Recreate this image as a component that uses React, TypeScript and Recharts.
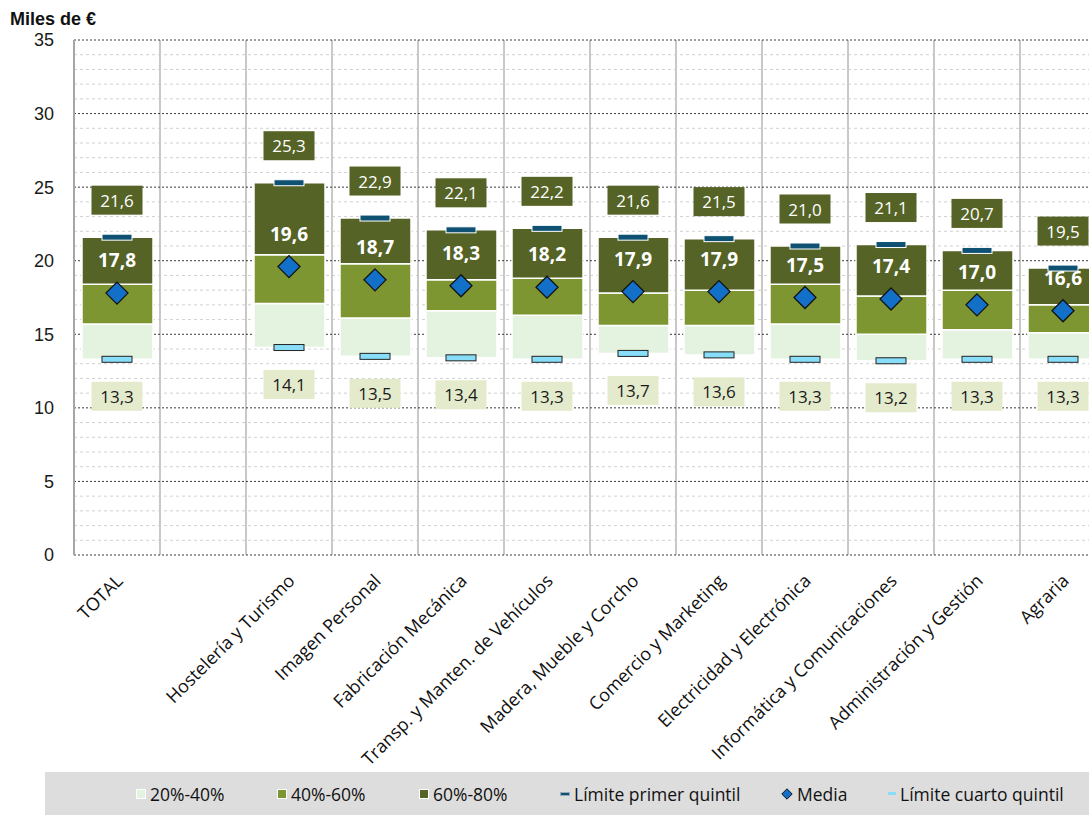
import React from 'react';
import { ComposedChart, Bar, Line, XAxis, YAxis, CartesianGrid, LabelList } from 'recharts';

const FONT = '"Open Sans", sans-serif';
const FONT_NARROW = '"Liberation Sans", Arial, sans-serif';

const categories = [
  'TOTAL',
  ' ',
  'Hostelería y Turismo',
  'Imagen Personal',
  'Fabricación Mecánica',
  'Transp. y Manten. de Vehículos',
  'Madera, Mueble y Corcho',
  'Comercio y Marketing',
  'Electricidad y Electrónica',
  'Informática y Comunicaciones',
  'Administración y Gestión',
  'Agraria',
];

// quintile limits (miles de €)
const q1 = [13.3, null, 14.1, 13.5, 13.4, 13.3, 13.7, 13.6, 13.3, 13.2, 13.3, 13.3];
const p40 = [15.7, null, 17.1, 16.1, 16.6, 16.3, 15.6, 15.6, 15.7, 15.0, 15.3, 15.1];
const p60 = [18.4, null, 20.4, 19.8, 18.7, 18.8, 17.8, 18.0, 18.4, 17.6, 18.0, 17.0];
const q4 = [21.6, null, 25.3, 22.9, 22.1, 22.2, 21.6, 21.5, 21.0, 21.1, 20.7, 19.5];
const media = [17.8, null, 19.6, 18.7, 18.3, 18.2, 17.9, 17.9, 17.5, 17.4, 17.0, 16.6];

const yTicks = [0, 5, 10, 15, 20, 25, 30, 35];
const minorTicks = [1, 2, 3, 4, 6, 7, 8, 9, 11, 12, 13, 14, 16, 17, 18, 19, 21, 22, 23, 24, 26, 27, 28, 29, 31, 32, 33, 34];

const C_LIGHT = '#E4F2E0';
const C_MID = '#7E9632';
const C_DARK = '#556326';
const C_TOPMARK = '#0F5172';
const C_LOWMARK = '#88DDF8';
const C_DIAMOND = '#1270C9';

const diff = (a: number | null, b: number | null) => (a == null || b == null ? null : +(a - b).toFixed(2));

const chartData = categories.map((name, i) => ({
  name,
  base: q1[i],
  low: diff(p40[i], q1[i]),
  mid: diff(p60[i], p40[i]),
  high: diff(q4[i], p60[i]),
  q1: q1[i],
  q4: q4[i],
  media: media[i],
}));

const fmt = (v: number) => v.toFixed(1).replace('.', ',');

const TopMark = (p: any) => {
  if (p.cy == null || p.payload.q4 == null) return <g key={p.index} />;
  return <rect key={p.index} x={p.cx - 15} y={p.cy - 3} width={30} height={6} fill={C_TOPMARK} stroke="#fff" strokeWidth={1} />;
};

const LowMark = (p: any) => {
  if (p.cy == null || p.payload.q1 == null) return <g key={p.index} />;
  return <rect key={p.index} x={p.cx - 15} y={p.cy - 3} width={30} height={6} fill={C_LOWMARK} stroke="#222" strokeWidth={1} />;
};

const Diamond = (p: any) => {
  if (p.cy == null || p.payload.media == null) return <g key={p.index} />;
  const { cx, cy } = p;
  return (
    <path
      key={p.index}
      d={`M${cx},${cy - 11} L${cx + 11},${cy} L${cx},${cy + 11} L${cx - 11},${cy} Z`}
      fill={C_DIAMOND}
      stroke="#111"
      strokeWidth={1.3}
    />
  );
};

const TopLabel = (p: any) => {
  if (p.value == null || p.y == null) return null;
  const cy = p.y - 37;
  return (
    <g>
      <rect x={p.x - 25.5} y={cy - 14.5} width={51} height={29} fill={C_DARK} />
      <text x={p.x} y={cy} textAnchor="middle" dominantBaseline="central" fill="#fff" fontSize={17} fontFamily={FONT}>
        {fmt(p.value)}
      </text>
    </g>
  );
};

const LowLabel = (p: any) => {
  if (p.value == null || p.y == null) return null;
  const cy = p.y + 37;
  return (
    <g>
      <rect x={p.x - 25.5} y={cy - 14.5} width={51} height={29} fill="#E3EBCC" />
      <text x={p.x} y={cy} textAnchor="middle" dominantBaseline="central" fill="#1a1a1a" fontSize={17} fontFamily={FONT}>
        {fmt(p.value)}
      </text>
    </g>
  );
};

const MeanLabel = (p: any) => {
  if (p.value == null || p.y == null) return null;
  return (
    <text x={p.x} y={p.y - 33} textAnchor="middle" dominantBaseline="central" fill="#fff" fontSize={19} fontWeight="bold" fontFamily={FONT}>
      {fmt(p.value)}
    </text>
  );
};

const XTick = ({ x, y, payload }: any) => {
  const ax = x + 7;
  const ay = y + 19;
  return (
    <text x={ax} y={ay} transform={`rotate(-45, ${ax}, ${ay})`} textAnchor="end" fontSize={18} fill="#111" fontFamily={FONT}>
      {payload.value}
    </text>
  );
};

const legendItems = [
  { label: '20%-40%', left: 136, kind: 'sq', color: C_LIGHT },
  { label: '40%-60%', left: 277, kind: 'sq', color: C_MID },
  { label: '60%-80%', left: 419, kind: 'sq', color: C_DARK },
  { label: 'Límite primer quintil', left: 560, kind: 'top', color: C_TOPMARK },
  { label: 'Media', left: 781, kind: 'dia', color: C_DIAMOND },
  { label: 'Límite cuarto quintil', left: 888, kind: 'low', color: C_LOWMARK },
];

const LegendIcon = ({ kind, color }: { kind: string; color: string }) => {
  if (kind === 'sq') return <span style={{ display: 'inline-block', width: 10, height: 10, background: color, border: '1px solid #fff', boxSizing: 'border-box' }} />;
  if (kind === 'top') return <span style={{ display: 'inline-block', width: 10, height: 4, background: color, border: '1px solid #9ab', boxSizing: 'border-box' }} />;
  if (kind === 'low') return <span style={{ display: 'inline-block', width: 8, height: 3, background: color }} />;
  return (
    <svg width={12} height={12} style={{ display: 'block' }}>
      <path d="M6,0.8 L11.2,6 L6,11.2 L0.8,6 Z" fill={color} stroke="#111" strokeWidth={1} />
    </svg>
  );
};

const minorGen = ({ yAxis, offset }: any) =>
  minorTicks.map((v) =>
    yAxis && typeof yAxis.scale === 'function' ? yAxis.scale(v) : offset.top + offset.height * (1 - v / 35)
  );

const sepGen = ({ offset }: any) => {
  const n = categories.length;
  const pts = categories.map((_, i) => offset.left + (i * offset.width) / n);
  return [...pts, offset.left + offset.width];
};

export default function App() {
  return (
    <div style={{ position: 'absolute', left: 0, top: 0, width: 1089, height: 815, overflow: 'hidden', background: '#fff', fontFamily: FONT }}>
      <div style={{ position: 'absolute', left: 10, top: 9, fontSize: 18, lineHeight: '20px', fontWeight: 'bold', color: '#111', fontFamily: FONT_NARROW }}>
        Miles de €
      </div>
      <div style={{ position: 'absolute', left: 0, top: 0 }}>
        <ComposedChart width={1110} height={770} data={chartData} margin={{ top: 40, right: 4, bottom: 0, left: 0 }} barSize={71}>
          <CartesianGrid vertical={false} stroke="#D0D0D0" strokeDasharray="3 3" horizontalCoordinatesGenerator={minorGen} />
          <CartesianGrid horizontal={false} stroke="#C8C8C8" strokeWidth={2} verticalCoordinatesGenerator={sepGen} />
          <CartesianGrid vertical={false} stroke="#3a3a3a" strokeDasharray="2 2" />
          <XAxis dataKey="name" axisLine={false} tickLine={false} interval={0} height={215} tick={<XTick />} />
          <YAxis
            domain={[0, 35]}
            ticks={yTicks}
            width={74}
            tickLine={false}
            axisLine={{ stroke: '#A6A6A6', strokeWidth: 2 }}
            tick={{ fontSize: 18, fill: '#1a1a1a', fontFamily: FONT_NARROW }}
            tickMargin={14}
          />
          <Bar dataKey="base" stackId="a" fill="transparent" stroke="none" isAnimationActive={false} legendType="none" />
          <Bar dataKey="low" stackId="a" fill={C_LIGHT} stroke="#fff" strokeWidth={1.5} isAnimationActive={false} />
          <Bar dataKey="mid" stackId="a" fill={C_MID} stroke="#fff" strokeWidth={1.5} isAnimationActive={false} />
          <Bar dataKey="high" stackId="a" fill={C_DARK} stroke="#fff" strokeWidth={1.5} isAnimationActive={false} />
          <Line dataKey="q4" stroke="none" dot={TopMark} activeDot={false} isAnimationActive={false}>
            <LabelList dataKey="q4" content={TopLabel} />
          </Line>
          <Line dataKey="q1" stroke="none" dot={LowMark} activeDot={false} isAnimationActive={false}>
            <LabelList dataKey="q1" content={LowLabel} />
          </Line>
          <Line dataKey="media" stroke="none" dot={Diamond} activeDot={false} isAnimationActive={false}>
            <LabelList dataKey="media" content={MeanLabel} />
          </Line>
        </ComposedChart>
      </div>
      <div style={{ position: 'absolute', left: 45, top: 772, width: 1044, height: 43, background: '#DDDDDD' }}>
        {legendItems.map((it) => (
          <div
            key={it.label}
            style={{ position: 'absolute', left: it.left - 45, top: 0, height: 43, display: 'flex', alignItems: 'center', gap: 4, fontSize: 17.5, color: '#111', whiteSpace: 'nowrap' }}
          >
            <LegendIcon kind={it.kind} color={it.color} />
            <span>{it.label}</span>
          </div>
        ))}
      </div>
    </div>
  );
}
